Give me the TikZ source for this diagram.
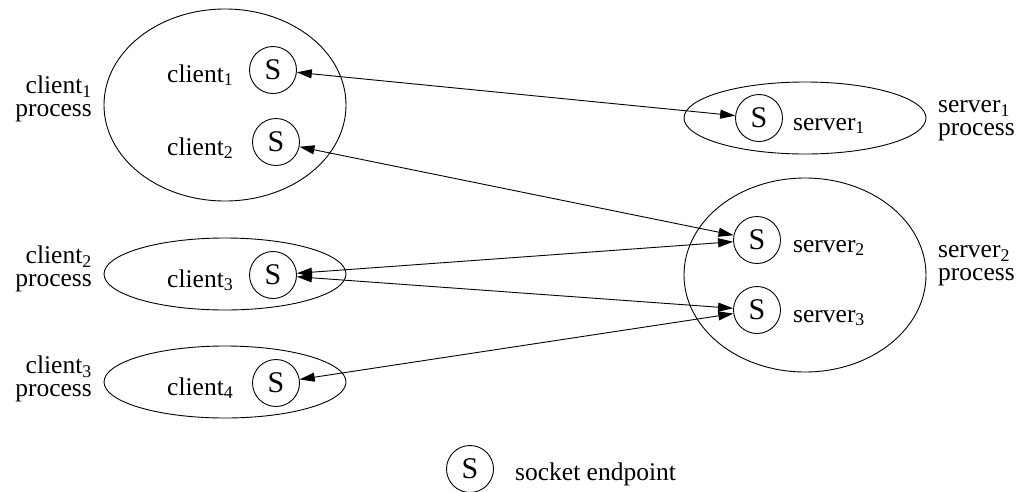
\documentclass[tikz,border=0pt]{standalone}
\usepackage{fontspec}
\setmainfont{Liberation Serif}
\usetikzlibrary{shapes.geometric,arrows.meta}
\begin{document}
\begin{tikzpicture}[x=1pt,y=-1pt,
  proc/.style={draw,ellipse,inner sep=0pt,line width=0.9pt},
  sock/.style={draw,circle,minimum size=47pt,inner sep=0pt,line width=0.9pt,font=\fontsize{30}{32}\selectfont},
  lbl/.style={inner sep=0pt,font=\fontsize{25.5}{23}\selectfont},
  conn/.style={{Triangle[length=15pt,width=9pt]}-{Triangle[length=15pt,width=9pt]},line width=0.9pt}]
\useasboundingbox[fill=white] (0,0) rectangle (1021,491);
% process ellipses
\node[proc,minimum width=242pt,minimum height=192pt] (cp1) at (225,105) {};
\node[proc,minimum width=242pt,minimum height=72pt] (cp2) at (225,274) {};
\node[proc,minimum width=242pt,minimum height=72pt] (cp3) at (225,382) {};
\node[proc,minimum width=242pt,minimum height=72pt] (sp1) at (805,118) {};
\node[proc,minimum width=242pt,minimum height=194pt] (sp2) at (805,275) {};
% sockets
\node[sock] (c1) at (273,70) {S};
\node[sock] (c2) at (276,142) {S};
\node[sock] (c3) at (273,275) {S};
\node[sock] (c4) at (276,383) {S};
\node[sock] (s1) at (759,118) {S};
\node[sock] (s2) at (757,240) {S};
\node[sock] (s3) at (757,310) {S};
\node[sock] (leg) at (470,469) {S};
% socket labels
\node[lbl,anchor=base west] (lc1) at (167,82) {client\textsubscript{1}};
\node[lbl,anchor=base west] (lc2) at (167,155) {client\textsubscript{2}};
\node[lbl,anchor=base west] (lc3) at (167,287) {client\textsubscript{3}};
\node[lbl,anchor=base west] (lc4) at (167,395) {client\textsubscript{4}};
\node[lbl,anchor=base west] (ls1) at (793,130) {server\textsubscript{1}};
\node[lbl,anchor=base west] (ls2) at (793,252) {server\textsubscript{2}};
\node[lbl,anchor=base west] (ls3) at (793,322) {server\textsubscript{3}};
% process labels
\node[lbl,align=right,anchor=east] (pc1) at (92,99) {client\textsubscript{1}\\process};
\node[lbl,align=right,anchor=east] (pc2) at (92,269) {client\textsubscript{2}\\process};
\node[lbl,align=right,anchor=east] (pc3) at (92,379) {client\textsubscript{3}\\process};
\node[lbl,align=left,anchor=west] (ps1) at (938,121) {server\textsubscript{1}\\process};
\node[lbl,align=left,anchor=west] (ps2) at (938,266) {server\textsubscript{2}\\process};
% legend
\node[lbl,anchor=base west] (legt) at (515,480) {socket endpoint};
% connections
\draw[conn] (c1) -- (s1);
\draw[conn] (c2) -- (s2);
\draw[conn] (c3) -- (s2);
\draw[conn] (c3) -- (s3);
\draw[conn] (c4) -- (s3);
\end{tikzpicture}
\end{document}
